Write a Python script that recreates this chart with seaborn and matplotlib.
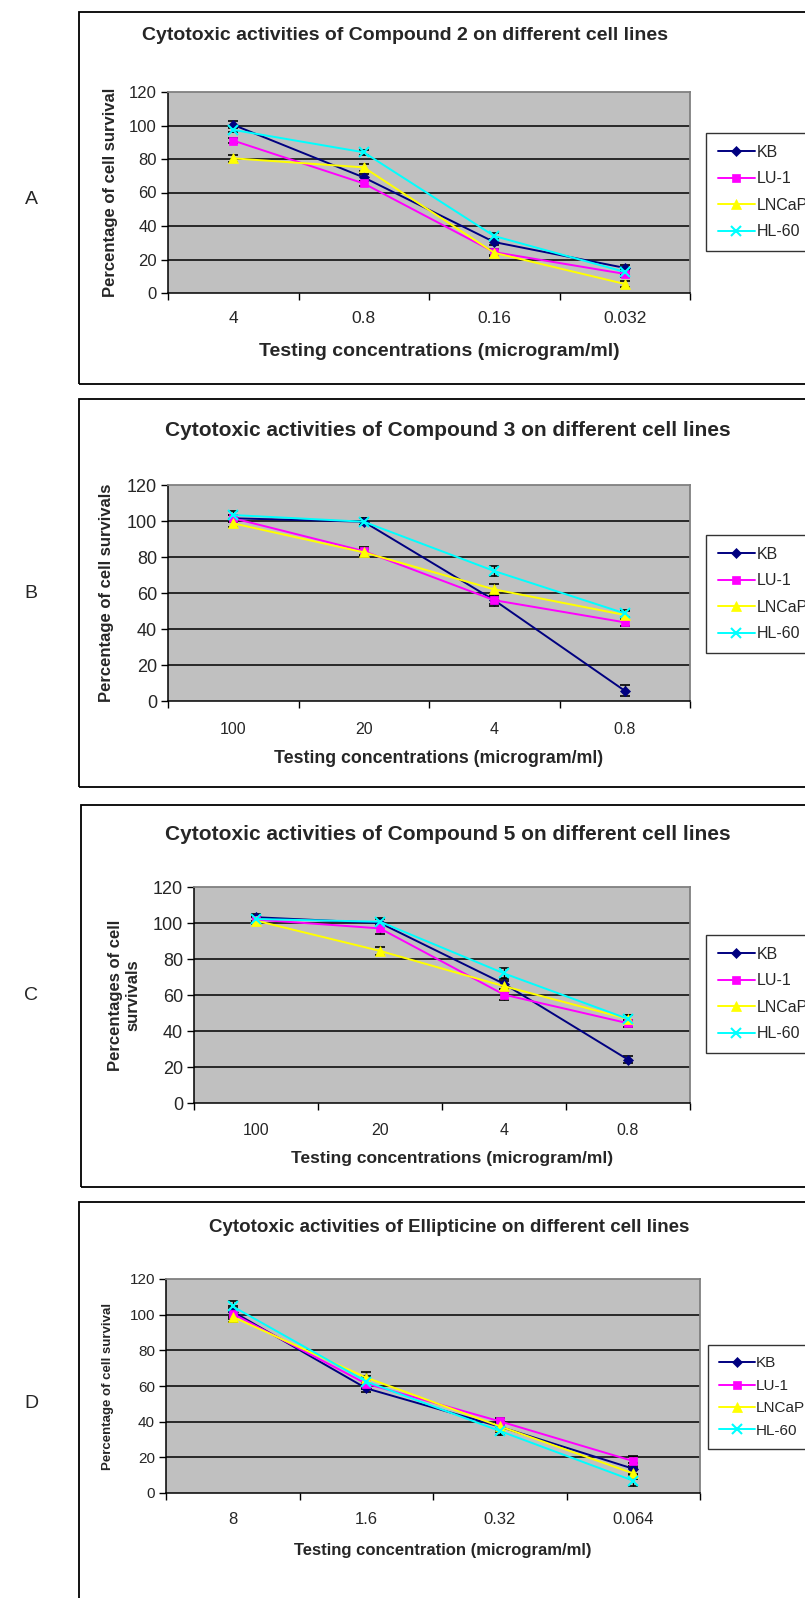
import numpy as np
import pandas as pd
import matplotlib
matplotlib.use("Agg")
import matplotlib.pyplot as plt
from matplotlib.patches import Rectangle
from matplotlib.lines import Line2D
import seaborn as sns

# ---------------- data ----------------
cell_lines = ["KB", "LU-1", "LNCaP", "HL-60"]

conc_A = ["4", "0.8", "0.16", "0.032"]
A_KB = [100.4, 69.0, 30.4, 15.0]
A_LU1 = [91.0, 65.4, 24.4, 11.4]
A_LNCaP = [80.4, 75.0, 24.0, 5.4]
A_HL60 = [97.4, 84.0, 34.0, 12.6]
A_err_KB = [2, 2, 2, 2]
A_err_LU1 = [1.5, 1.5, 2, 2]
A_err_LNCaP = [2, 2, 2, 2]
A_err_HL60 = [1.5, 1.5, 2, 2]

conc_B = ["100", "20", "4", "0.8"]
B_KB = [101.5, 99.6, 56.0, 5.7]
B_LU1 = [101.5, 83.3, 56.0, 43.7]
B_LNCaP = [98.7, 82.6, 62.0, 47.8]
B_HL60 = [103.3, 99.6, 72.2, 48.7]
B_err_KB = [2, 2, 2, 3]
B_err_LU1 = [2, 2, 3, 2]
B_err_LNCaP = [2, 2, 3, 2]
B_err_HL60 = [2, 2, 3, 2]

conc_C = ["100", "20", "4", "0.8"]
C_KB = [103.2, 100.0, 66.2, 24.1]
C_LU1 = [101.9, 97.0, 60.2, 44.3]
C_LNCaP = [101.3, 84.5, 64.9, 46.7]
C_HL60 = [102.2, 100.7, 72.0, 46.7]
C_err_KB = [2, 2, 3, 2]
C_err_LU1 = [2, 3, 3, 2]
C_err_LNCaP = [2, 2, 3, 2]
C_err_HL60 = [2, 2, 3, 2]

conc_D = ["8", "1.6", "0.32", "0.064"]
D_KB = [101.7, 58.7, 37.2, 13.6]
D_LU1 = [100.5, 61.3, 40.2, 17.9]
D_LNCaP = [98.8, 64.7, 37.4, 11.0]
D_HL60 = [104.6, 62.5, 34.8, 6.9]
D_err_KB = [3, 2, 2, 3]
D_err_LU1 = [3, 3, 2, 3]
D_err_LNCaP = [3, 3, 3, 3]
D_err_HL60 = [3, 3, 2, 3]

titles = [
    "Cytotoxic activities of Compound 2 on different cell lines",
    "Cytotoxic activities of Compound 3 on different cell lines",
    "Cytotoxic activities of Compound 5 on different cell lines",
    "Cytotoxic activities of Ellipticine on different cell lines",
]
ylabels = [
    "Percentage of cell survival",
    "Percentage of cell survivals",
    "Percentages of cell\nsurvivals",
    "Percentage of cell survival",
]
xlabels = [
    "Testing concentrations (microgram/ml)",
    "Testing concentrations (microgram/ml)",
    "Testing concentrations (microgram/ml)",
    "Testing concentration (microgram/ml)",
]
panel_letters = ["A", "B", "C", "D"]

# ---------------- style ----------------
colors = {"KB": "#000080", "LU-1": "#FF00FF", "LNCaP": "#FFFF00", "HL-60": "#00FFFF"}
markers = {"KB": "D", "LU-1": "s", "LNCaP": "^", "HL-60": "x"}
msizes = {"KB": 5.5, "LU-1": 6, "LNCaP": 7, "HL-60": 7}

sns.set_theme(style="white")
plt.rcParams["font.family"] = ["Liberation Sans", "DejaVu Sans"]

W, H = 805, 1598
fig = plt.figure(figsize=(W / 100, H / 100), dpi=100)


def fx(px):
    return px / W


def fy(py):
    return 1 - py / H


panels = [
    dict(conc=conc_A, vals=[A_KB, A_LU1, A_LNCaP, A_HL60], errs=[A_err_KB, A_err_LU1, A_err_LNCaP, A_err_HL60],
         box=(79, 12, 384), ax=(168, 92, 690, 293), title_y=36, title_x=405, title_fs=14,
         ylab_x=110, ylab_fs=12, xt_fs=12.5, xlab_y=352, xlab_fs=14, xtl_y=320, ytl_fs=12,
         leg=(706, 133), leg_fs=11.5, leg_sp=0.72, letter_y=200),
    dict(conc=conc_B, vals=[B_KB, B_LU1, B_LNCaP, B_HL60], errs=[B_err_KB, B_err_LU1, B_err_LNCaP, B_err_HL60],
         box=(79, 399, 787), ax=(168, 485, 690, 701), title_y=430, title_x=448, title_fs=15,
         ylab_x=107, ylab_fs=12, xt_fs=11.5, xlab_y=759, xlab_fs=12.8, xtl_y=730, ytl_fs=13,
         leg=(706, 535), leg_fs=11.5, leg_sp=0.72, letter_y=594),
    dict(conc=conc_C, vals=[C_KB, C_LU1, C_LNCaP, C_HL60], errs=[C_err_KB, C_err_LU1, C_err_LNCaP, C_err_HL60],
         box=(81, 805, 1187), ax=(194, 887, 690, 1103), title_y=834, title_x=448, title_fs=15,
         ylab_x=124, ylab_fs=12, xt_fs=11.5, xlab_y=1159, xlab_fs=12.5, xtl_y=1131, ytl_fs=13,
         leg=(706, 935), leg_fs=11.5, leg_sp=0.72, letter_y=996),
    dict(conc=conc_D, vals=[D_KB, D_LU1, D_LNCaP, D_HL60], errs=[D_err_KB, D_err_LU1, D_err_LNCaP, D_err_HL60],
         box=(79, 1202, 1650), ax=(166, 1279, 700, 1493), title_y=1228, title_x=449, title_fs=13.5,
         ylab_x=108, ylab_fs=9.5, xt_fs=12, xlab_y=1551, xlab_fs=12, xtl_y=1520, ytl_fs=11,
         leg=(708, 1345), leg_fs=11, leg_sp=0.55, letter_y=1404),
]

for i, p in enumerate(panels):
    bx, btop, bbot = p["box"]
    fig.patches.append(Rectangle((fx(bx), fy(bbot)), fx(W + 50 - bx), (bbot - btop) / H,
                                 transform=fig.transFigure, facecolor="none", edgecolor="black",
                                 linewidth=1.3, zorder=0))
    fig.text(fx(31), fy(p["letter_y"]), panel_letters[i], fontsize=14, ha="center", va="center")
    fig.text(fx(p["title_x"]), fy(p["title_y"]), titles[i], fontsize=p["title_fs"], fontweight="bold",
             ha="center", va="center")

    l, t, r, b = p["ax"]
    ax = fig.add_axes([fx(l), fy(b), (r - l) / W, (b - t) / H])
    ax.set_facecolor("#C0C0C0")
    xs = np.arange(len(p["conc"]))
    for name, v, e in zip(cell_lines, p["vals"], p["errs"]):
        ax.errorbar(xs, v, yerr=e, fmt="none", ecolor="black", elinewidth=1, capsize=3.5, capthick=1.2, zorder=3)
        sns.lineplot(x=xs, y=v, color=colors[name], marker=markers[name], markersize=msizes[name],
                     markeredgecolor=colors[name], markeredgewidth=1.5 if name == "HL-60" else 0.5,
                     linewidth=1.4, ax=ax, zorder=4, errorbar=None)
    ax.set_xlim(-0.5, len(xs) - 0.5)
    ax.set_ylim(0, 120)
    ax.set_yticks(np.arange(0, 121, 20))
    ax.tick_params(axis="y", which="major", direction="out", length=5, width=1, color="black",
                   labelsize=p["ytl_fs"], pad=3, left=True)
    ax.set_xticks(xs)
    ax.set_xticklabels(p["conc"])
    ax.tick_params(axis="x", which="major", length=0, labelsize=p["xt_fs"],
                   pad=(p["xtl_y"] - b) * 0.72 - p["xt_fs"] * 0.5)
    ax.set_xticks(np.arange(-0.5, len(xs), 1.0), minor=True)
    ax.tick_params(axis="x", which="minor", direction="out", length=5, width=1, color="black", bottom=True)
    for yv in range(20, 120, 20):
        ax.axhline(yv, color="black", linewidth=1.1, zorder=1)
    for s in ["top", "right"]:
        ax.spines[s].set_color("#808080")
        ax.spines[s].set_linewidth(1.3)
    for s in ["left", "bottom"]:
        ax.spines[s].set_color("black")
        ax.spines[s].set_linewidth(1.1)
    ax.set_xlabel("")
    ax.set_ylabel("")

    fig.text(fx(p["ylab_x"]), fy((t + b) / 2), ylabels[i], rotation=90, fontsize=p["ylab_fs"],
             fontweight="bold", ha="center", va="center", multialignment="center")
    fig.text(fx((l + r) / 2 + 10), fy(p["xlab_y"]), xlabels[i], fontsize=p["xlab_fs"], fontweight="bold",
             ha="center", va="center")

    handles = [Line2D([0], [0], color=colors[n], marker=markers[n], markersize=msizes[n] - 0.5,
                      markeredgecolor=colors[n], markeredgewidth=1.5 if n == "HL-60" else 0.5,
                      linewidth=1.4) for n in cell_lines]
    lx, ltop = p["leg"]
    leg = fig.legend(handles, cell_lines, loc="upper left", bbox_to_anchor=(fx(lx), fy(ltop)),
                     frameon=True, fancybox=False, edgecolor="black", fontsize=p["leg_fs"],
                     handlelength=2.3, handletextpad=0.1, labelspacing=p["leg_sp"], borderpad=0.75,
                     borderaxespad=0)
    leg.get_frame().set_linewidth(1)

fig.savefig("out.png", dpi=100)
